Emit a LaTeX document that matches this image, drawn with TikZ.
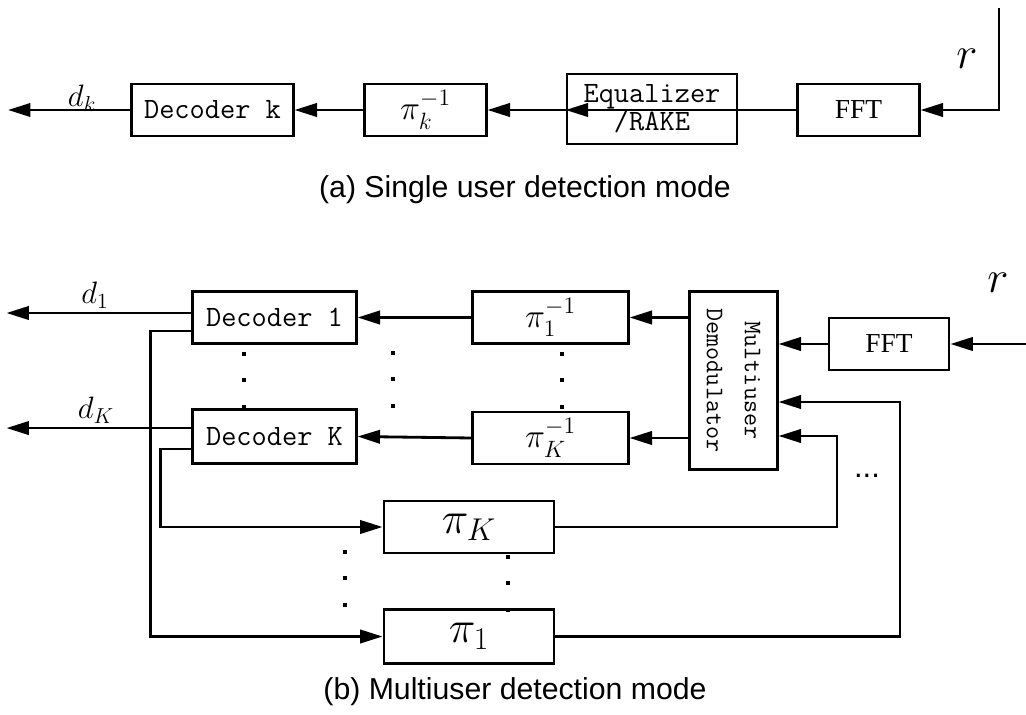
\RequirePackage{fix-cm}
\documentclass[tikz,border=0pt]{standalone}
\usepackage{fontspec}
\usepackage{amsmath}
\usetikzlibrary{arrows.meta}
\newfontfamily\capfont{Liberation Sans}
\newfontfamily\fftfont{Liberation Serif}

\tikzset{
  blk/.style={draw, line width=2pt, inner sep=0pt, align=center},
  flow/.style={line width=2pt, -{Triangle[length=16pt,width=9.5pt]}},
  mono/.style={font=\fontsize{21}{20}\selectfont\ttfamily},
}

\begin{document}
\begin{tikzpicture}[x=0.025cm, y=-0.025cm]
\useasboundingbox (0,0) rectangle (1026,715);

% (a) single user
\node[blk, mono, minimum width=4.03cm, minimum height=1.3cm] (deck) at (212.5,110) {Decoder k};
\node[blk, minimum width=3.03cm, minimum height=1.3cm, font=\fontsize{24}{26}\selectfont] (pik) at (425.5,110) {$\pi_k^{-1}$};
\node[blk, mono, minimum width=4.25cm, minimum height=1.75cm] (eq) at (652,109) {Equalizer\\/RAKE};
\node[blk, minimum width=3.03cm, minimum height=1.3cm, font=\fontsize{19.5}{22}\selectfont\fftfont] (ffta) at (858.5,110) {FFT};
\coordinate (ina) at (999,8);
\coordinate (outa) at (8,110);

\draw[flow] (ina) |- (ffta.east);
\draw[flow] (ffta.west) -- (eq.west |- ffta.west) ;
\draw[flow] (eq.west |- ffta.west) -- (pik.east);
\draw[flow] (pik.west) -- (deck.east);
\draw[flow] (deck.west) -- (outa);

\node[font=\fontsize{22}{24}\selectfont] (dk) at (82,98) {$d_k$};
\node[font=\fontsize{32}{34}\selectfont] (ra) at (967,59) {$r$};
\node[font=\fontsize{21.5}{25}\selectfont\capfont] (capa) at (525,190) {(a) Single user detection mode};

% (b) multiuser
\node[blk, mono, minimum width=4.08cm, minimum height=1.28cm] (dec1) at (274.5,317.5) {Decoder 1};
\node[blk, mono, minimum width=4.08cm, minimum height=1.33cm] (decK) at (274.5,436.5) {Decoder K};
\node[blk, minimum width=3.88cm, minimum height=1.28cm, font=\fontsize{24}{26}\selectfont] (pi1inv) at (550.5,317.5) {$\pi_1^{-1}$};
\node[blk, minimum width=3.88cm, minimum height=1.3cm, font=\fontsize{24}{26}\selectfont] (piKinv) at (550.5,438) {$\pi_K^{-1}$};
\node[blk, rotate=-90, minimum width=4.43cm, minimum height=2.18cm, font=\fontsize{18}{27}\selectfont\ttfamily] (demod) at (733.5,380.5) {Multiuser\\Demodulator};
\node[blk, minimum width=3cm, minimum height=1.3cm, font=\fontsize{19.5}{22}\selectfont\fftfont] (fftb) at (889,344) {FFT};
\node[blk, minimum width=4.25cm, minimum height=1.3cm, font=\fontsize{32}{34}\selectfont] (piK) at (469,527) {$\pi_K$};
\node[blk, minimum width=4.25cm, minimum height=1.33cm, font=\fontsize{32}{34}\selectfont] (pi1) at (469,636.5) {$\pi_1$};
\coordinate (inb) at (1026,344);
\coordinate (fbK) at (837,436);
\coordinate (fb1) at (900,402);

\draw[flow] (inb) -- (fftb.east);
\draw[flow] (fftb.west) -- (fftb.west -| demod.north);
\draw[flow] (pi1inv.east -| demod.south) -- (pi1inv.east);
\draw[flow] (piKinv.east -| demod.south) -- (piKinv.east);
\draw[flow] (pi1inv.west) -- (dec1.east);
\draw[flow] (piKinv.west) -- (decK.east);
\draw[flow] ([yshift=3.2pt]dec1.west) -- ++(-185,0);
\draw[flow] ([yshift=6pt]decK.west) -- ++(-185,0);
\draw[flow] ([yshift=-9.6pt]dec1.west) -- ++(-41,0) |- (pi1.west);
\draw[flow] ([yshift=-8.9pt]decK.west) -- ++(-31,0) |- (piK.west);
\draw[flow] (piK.east) -| (fbK) -- (fbK -| demod.north);
\draw[flow] (pi1.east) -| (fb1) -- (fb1 -| demod.north);

\node[font=\fontsize{22}{24}\selectfont] (d1) at (95,295) {$d_1$};
\node[font=\fontsize{22}{24}\selectfont] (dK) at (96,410) {$d_K$};
\node[font=\fontsize{32}{34}\selectfont] (rb) at (998,283) {$r$};
\node[font=\fontsize{22}{25}\selectfont\capfont] (more) at (867,476) {...};
\node[font=\fontsize{21.5}{25}\selectfont\capfont] (capb) at (515,692) {(b) Multiuser detection mode};

% vertical dots
\foreach \x/\y in {244/354, 393/353, 562/354, 345/552, 508/557}
  \foreach \d in {0,26,53}
    \fill (\x,{\y+\d}) +(-1.8,-1.8) rectangle +(1.8,1.8);
\end{tikzpicture}
\end{document}
